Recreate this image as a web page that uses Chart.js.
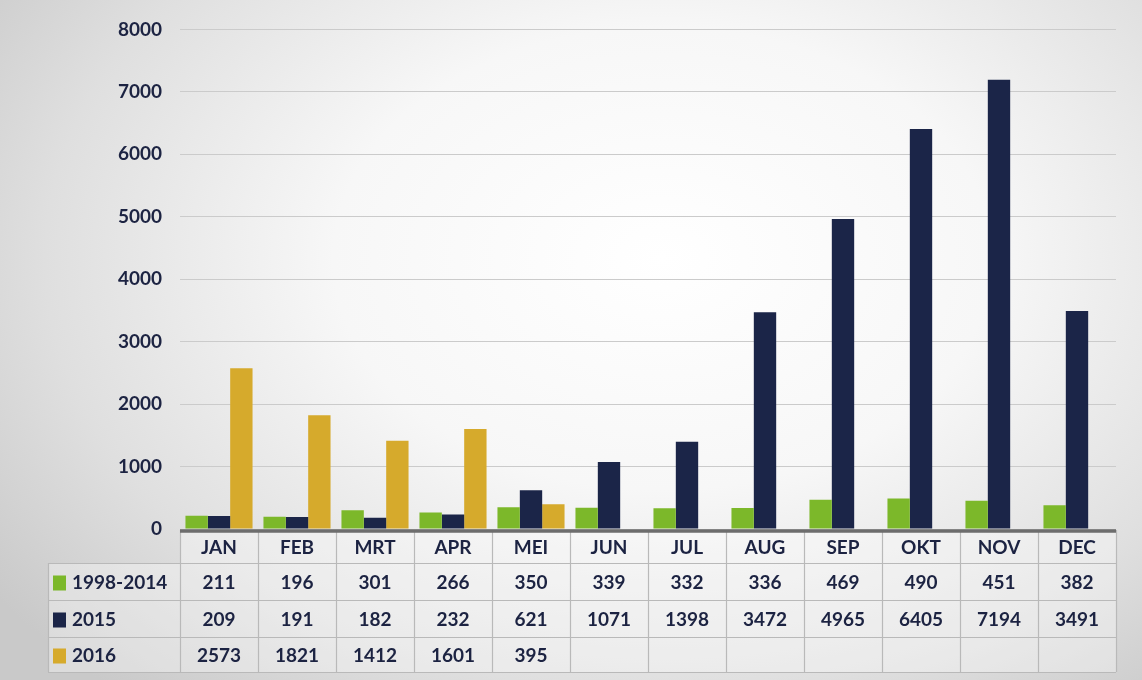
<!DOCTYPE html>
<html>
<head>
<meta charset="utf-8">
<title>Asielaanvragen per maand</title>
<script src="https://cdn.jsdelivr.net/npm/chart.js@4.4.1/dist/chart.umd.min.js"></script>
<style>
    html, body { margin: 0; padding: 0; }
    body {
        width: 1142px;
        height: 680px;
        overflow: hidden;
        background: radial-gradient(ellipse 72% 85% at 58% 38%, #ffffff 0%, #f7f7f7 40%, #dfdfdf 75%, #c9c9c9 100%);
    }
    #chart { display: block; }
</style>
</head>
<body>
<canvas id="chart" width="1142" height="680"></canvas>
<script>
// Data
var maanden = ['JAN', 'FEB', 'MRT', 'APR', 'MEI', 'JUN', 'JUL', 'AUG', 'SEP', 'OKT', 'NOV', 'DEC'];
var reeksNamen = ['1998-2014', '2015', '2016'];
var gem19982014 = [211, 196, 301, 266, 350, 339, 332, 336, 469, 490, 451, 382];
var jaar2015 = [209, 191, 182, 232, 621, 1071, 1398, 3472, 4965, 6405, 7194, 3491];
var jaar2016 = [2573, 1821, 1412, 1601, 395, null, null, null, null, null, null, null];
var yTicks = [0, 1000, 2000, 3000, 4000, 5000, 6000, 7000, 8000];

var kleuren = ['#7cb82a', '#1b2548', '#d6aa2c'];
var tekstKleur = '#1c2342';
var lettertype = 'Lato, "Open Sans", sans-serif';

// Tabel onder de grafiek (tekent op basis van de x-schaal)
var tabelPlugin = {
    id: 'dataTabel',
    afterDraw: function(chart) {
        var ctx = chart.ctx;
        var x = chart.scales.x;
        var area = chart.chartArea;
        var kolomBreedte = x.width / maanden.length;
        var rijen = [area.bottom + 1, 563, 600, 637, 672];
        var legendaLinks = 48;
        var reeksen = [gem19982014, jaar2015, jaar2016];

        ctx.save();
        ctx.fillStyle = 'rgba(255,255,255,0.35)';
        ctx.fillRect(area.left, rijen[0], area.right - area.left, rijen[4] - rijen[0]);
        ctx.fillRect(legendaLinks, rijen[1], area.left - legendaLinks, rijen[4] - rijen[1]);

        // lijnen
        ctx.strokeStyle = '#b9b9b9';
        ctx.lineWidth = 1.2;
        ctx.beginPath();
        for (var r = 1; r < rijen.length; r++) {
            ctx.moveTo(legendaLinks, rijen[r] + 0.5);
            ctx.lineTo(area.right, rijen[r] + 0.5);
        }
        for (var k = 0; k <= maanden.length; k++) {
            var kx = Math.round(area.left + k * kolomBreedte) + 0.5;
            ctx.moveTo(kx, rijen[0]);
            ctx.lineTo(kx, rijen[4]);
        }
        ctx.moveTo(legendaLinks + 0.5, rijen[1]);
        ctx.lineTo(legendaLinks + 0.5, rijen[4]);
        ctx.stroke();

        // dikke bovenrand
        ctx.strokeStyle = '#6d6d6d';
        ctx.lineWidth = 3.5;
        ctx.beginPath();
        ctx.moveTo(area.left, rijen[0] + 1);
        ctx.lineTo(area.right, rijen[0] + 1);
        ctx.stroke();

        ctx.fillStyle = tekstKleur;
        ctx.font = 'bold 19px ' + lettertype;
        ctx.textAlign = 'center';
        ctx.textBaseline = 'middle';

        // maandnamen
        for (var i = 0; i < maanden.length; i++) {
            var cx = x.getPixelForValue(i);
            ctx.fillText(maanden[i], cx, (rijen[0] + rijen[1]) / 2 + 1);
        }

        // waarden
        for (var s = 0; s < reeksen.length; s++) {
            var cy = (rijen[s + 1] + rijen[s + 2]) / 2 + 1;
            for (var j = 0; j < maanden.length; j++) {
                var v = reeksen[s][j];
                if (v === null || v === undefined) continue;
                ctx.fillText(String(v), x.getPixelForValue(j), cy);
            }
            // legenda
            ctx.fillStyle = kleuren[s];
            ctx.fillRect(legendaLinks + 5, cy - 7, 13, 15);
            ctx.fillStyle = tekstKleur;
            ctx.textAlign = 'left';
            ctx.fillText(reeksNamen[s], legendaLinks + 24, cy);
            ctx.textAlign = 'center';
        }
        ctx.restore();
    }
};

var ctx = document.getElementById('chart');
var grafiek = new Chart(ctx, {
    type: 'bar',
    data: {
        labels: maanden,
        datasets: [
            { label: reeksNamen[0], data: gem19982014, backgroundColor: kleuren[0] },
            { label: reeksNamen[1], data: jaar2015, backgroundColor: kleuren[1] },
            { label: reeksNamen[2], data: jaar2016, backgroundColor: kleuren[2] }
        ]
    },
    options: {
        responsive: false,
        animation: false,
        categoryPercentage: 0.86,
        barPercentage: 1.0,
        layout: { padding: { top: 28, right: 26, bottom: 151, left: 0 } },
        plugins: {
            legend: { display: false },
            tooltip: { enabled: false }
        },
        scales: {
            x: {
                display: false
            },
            y: {
                min: 0,
                max: 8000,
                afterFit: function(scale) { scale.width = 180; },
                afterBuildTicks: function(scale) {
                    scale.ticks = yTicks.map(function(v) { return { value: v }; });
                },
                border: { display: false },
                grid: { color: '#cbcbcb', lineWidth: 1, drawTicks: false },
                ticks: {
                    padding: 18,
                    color: tekstKleur,
                    font: { family: lettertype, size: 19, weight: 'bold' },
                    callback: function(value) { return String(value); }
                }
            }
        }
    },
    plugins: [tabelPlugin]
});
</script>
</body>
</html>
